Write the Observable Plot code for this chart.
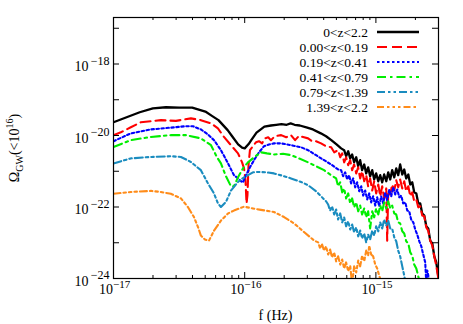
<!DOCTYPE html>
<html><head><meta charset="utf-8">
<script src="https://cdn.jsdelivr.net/npm/d3@7"></script>
<script src="https://cdn.jsdelivr.net/npm/@observablehq/plot@0.6"></script>
<style>body{margin:0;background:#fff}#chart{width:463px;height:324px}</style>
</head><body><div id="chart"></div>
<script>
// ---- data (log10 f [Hz], log10 Omega_GW) ----
const seriesNames = ["0<z<2.2","0.00<z<0.19","0.19<z<0.41","0.41<z<0.79","0.79<z<1.39","1.39<z<2.2"];
const seriesColors = ["#000000","#ff0000","#0000ff","#00ee00","#1a8cbf","#ff8c1a"];
const seriesDash = ["none","10,5","2.5,2.5","9,4,2.5,4","8,3,2.5,3,2.5,3","7,3,2.5,3,2.5,3,2.5,3"];

const black = [
[-17.0,-19.63],[-16.9,-19.49],[-16.8,-19.35],[-16.7,-19.24],[-16.6,-19.21],[-16.5,-19.22],[-16.4,-19.22],[-16.3,-19.33],[-16.25,-19.45],[-16.2,-19.57],[-16.13,-19.85],[-16.1,-20.0],[-16.05,-20.25],[-16.02,-20.34],[-16.0,-20.36],[-15.97,-20.24],[-15.95,-20.13],[-15.91,-19.92],[-15.85,-19.75],[-15.8,-19.72],[-15.76,-19.70],[-15.72,-19.68],[-15.68,-19.70],[-15.65,-19.66],[-15.62,-19.70],[-15.58,-19.72],[-15.53,-19.77],[-15.48,-19.83],[-15.42,-19.94],[-15.38,-20.02],[-15.34,-20.13],[-15.30,-20.25],[-15.265,-20.36],
[-15.242,-20.41],[-15.227,-20.58],[-15.211,-20.44],[-15.196,-20.64],[-15.181,-20.53],[-15.166,-20.75],[-15.150,-20.61],[-15.135,-20.86],[-15.120,-20.69],[-15.105,-20.97],[-15.089,-20.81],[-15.074,-21.06],[-15.059,-20.89],[-15.044,-21.14],[-15.028,-20.97],[-15.013,-21.23],[-14.998,-21.06],[-14.982,-21.28],[-14.967,-21.11],[-14.952,-21.31],[-14.937,-21.09],[-14.921,-21.28],[-14.906,-21.03],[-14.891,-21.23],[-14.876,-20.97],[-14.860,-21.17],[-14.845,-20.92],[-14.830,-21.11],[-14.815,-20.81],[-14.799,-21.09],[-14.784,-20.95],[-14.769,-21.20],[-14.753,-21.09],[-14.738,-21.37],[-14.723,-21.31],[-14.708,-21.59],[-14.692,-21.62],[-14.677,-21.90],[-14.662,-21.90],[-14.647,-22.18],[-14.631,-22.24],[-14.616,-22.54],[-14.601,-22.60],[-14.586,-22.94],[-14.570,-23.02],[-14.555,-23.38],[-14.540,-23.55],[-14.524,-23.94]
];
const red = [
[-17.0,-19.99],[-16.944,-19.91],[-16.868,-19.77],[-16.792,-19.63],[-16.715,-19.60],[-16.639,-19.57],[-16.524,-19.59],[-16.41,-19.52],[-16.334,-19.57],[-16.257,-19.66],[-16.204,-19.80],[-16.158,-20.04],[-16.105,-20.27],[-16.051,-20.50],[-16.02,-20.75],[-16.005,-20.92],[-15.994,-21.25],[-15.986,-21.90],[-15.979,-21.67],[-15.971,-20.83],[-15.96,-20.41],[-15.937,-20.30],[-15.914,-20.19],[-15.891,-20.16],[-15.868,-20.22],[-15.845,-20.08],[-15.821,-20.05],[-15.80,-20.13],[-15.77,-20.02],[-15.722,-19.99],[-15.684,-20.05],[-15.647,-19.99],[-15.616,-20.13],[-15.586,-20.01],[-15.548,-20.05],[-15.517,-20.08],[-15.486,-20.16],[-15.456,-20.16],[-15.418,-20.22],[-15.38,-20.30],[-15.341,-20.33],[-15.318,-20.47],
[-15.288,-20.41],[-15.272,-20.61],[-15.257,-20.50],[-15.242,-20.75],[-15.227,-20.61],[-15.211,-20.83],[-15.196,-20.69],[-15.181,-20.97],[-15.166,-20.81],[-15.150,-21.06],[-15.135,-20.89],[-15.120,-21.20],[-15.105,-21.00],[-15.089,-21.28],[-15.074,-21.11],[-15.059,-21.42],[-15.044,-21.20],[-15.028,-21.54],[-15.013,-21.28],[-14.998,-21.62],[-14.982,-21.37],[-14.967,-21.70],[-14.952,-21.42],[-14.937,-21.76],[-14.921,-21.48],[-14.914,-22.94],[-14.906,-21.54],[-14.891,-21.65],[-14.876,-21.37],[-14.860,-21.54],[-14.845,-21.25],[-14.830,-21.45],[-14.815,-21.23],[-14.799,-21.48],[-14.784,-21.28],[-14.769,-21.56],[-14.753,-21.42],[-14.738,-21.70],[-14.723,-21.59],[-14.708,-21.84],[-14.692,-21.79],[-14.677,-22.01],[-14.662,-21.98],[-14.647,-22.24],[-14.631,-22.26],[-14.616,-22.57],[-14.601,-22.66],[-14.586,-22.94],[-14.570,-23.08],[-14.555,-23.38],[-14.540,-23.64],[-14.524,-24.0]
];
const blue = [
[-17.0,-20.16],[-16.868,-19.94],[-16.715,-19.83],[-16.563,-19.78],[-16.448,-19.74],[-16.395,-19.74],[-16.334,-19.83],[-16.28,-19.97],[-16.234,-20.13],[-16.181,-20.41],[-16.127,-20.78],[-16.082,-21.11],[-16.051,-21.20],[-16.028,-21.28],[-16.013,-21.31],[-15.99,-21.11],[-15.96,-20.89],[-15.929,-20.69],[-15.891,-20.47],[-15.853,-20.30],[-15.815,-20.25],[-15.777,-20.22],[-15.722,-20.22],[-15.647,-20.27],[-15.57,-20.33],[-15.517,-20.41],[-15.456,-20.55],[-15.395,-20.69],[-15.341,-20.81],[-15.288,-20.95],
[-15.265,-20.97],[-15.250,-21.14],[-15.234,-21.03],[-15.219,-21.23],[-15.204,-21.11],[-15.189,-21.34],[-15.173,-21.20],[-15.158,-21.45],[-15.143,-21.31],[-15.127,-21.56],[-15.112,-21.42],[-15.097,-21.68],[-15.082,-21.54],[-15.066,-21.79],[-15.051,-21.62],[-15.036,-21.87],[-15.021,-21.70],[-15.005,-21.96],[-14.990,-21.73],[-14.975,-21.98],[-14.960,-21.70],[-14.944,-21.90],[-14.929,-21.59],[-14.914,-21.82],[-14.898,-21.51],[-14.883,-21.70],[-14.868,-21.45],[-14.853,-21.65],[-14.837,-21.51],[-14.822,-21.73],[-14.807,-21.68],[-14.792,-21.90],[-14.776,-21.87],[-14.761,-22.10],[-14.746,-22.12],[-14.731,-22.35],[-14.715,-22.43],[-14.700,-22.63],[-14.685,-22.77],[-14.669,-22.96],[-14.654,-23.10],[-14.639,-23.33],[-14.624,-23.55],[-14.616,-24.14],[-14.608,-23.78],[-14.593,-24.06]
];
const green = [
[-17.0,-20.32],[-16.868,-20.13],[-16.715,-20.04],[-16.563,-19.99],[-16.448,-19.99],[-16.334,-20.08],[-16.257,-20.27],[-16.211,-20.61],[-16.181,-20.78],[-16.143,-21.14],[-16.105,-21.42],[-16.082,-21.42],[-16.051,-21.17],[-16.013,-20.92],[-15.975,-20.75],[-15.929,-20.61],[-15.876,-20.47],[-15.83,-20.50],[-15.777,-20.53],[-15.708,-20.51],[-15.647,-20.55],[-15.586,-20.64],[-15.517,-20.75],[-15.456,-20.86],[-15.395,-20.97],[-15.341,-21.11],
[-15.303,-21.20],[-15.288,-21.42],[-15.272,-21.31],[-15.257,-21.59],[-15.242,-21.48],[-15.227,-21.76],[-15.211,-21.62],[-15.196,-21.90],[-15.181,-21.76],[-15.166,-22.01],[-15.150,-21.87],[-15.135,-22.12],[-15.120,-21.96],[-15.105,-22.21],[-15.089,-22.04],[-15.074,-22.29],[-15.059,-22.12],[-15.044,-22.60],[-15.028,-22.12],[-15.013,-22.29],[-14.998,-22.04],[-14.982,-22.21],[-14.967,-21.96],[-14.952,-22.12],[-14.937,-21.87],[-14.921,-22.04],[-14.906,-21.84],[-14.891,-22.04],[-14.876,-21.96],[-14.860,-22.18],[-14.845,-22.21],[-14.830,-22.43],[-14.815,-22.46],[-14.799,-22.68],[-14.784,-22.74],[-14.769,-22.96],[-14.753,-23.02],[-14.738,-23.27],[-14.723,-23.36],[-14.708,-23.61],[-14.692,-23.72],[-14.677,-23.94],[-14.669,-24.06]
];
const teal = [
[-17.0,-20.78],[-16.868,-20.64],[-16.715,-20.60],[-16.563,-20.58],[-16.486,-20.60],[-16.41,-20.74],[-16.334,-20.97],[-16.28,-21.34],[-16.234,-21.62],[-16.204,-21.90],[-16.181,-22.00],[-16.143,-21.86],[-16.105,-21.54],[-16.051,-21.30],[-16.005,-21.17],[-15.975,-21.11],[-15.937,-21.03],[-15.898,-21.02],[-15.837,-21.03],[-15.777,-21.06],[-15.708,-21.13],[-15.647,-21.20],[-15.57,-21.30],[-15.517,-21.39],[-15.456,-21.56],[-15.418,-21.70],[-15.38,-21.84],
[-15.364,-21.93],[-15.349,-22.10],[-15.334,-21.98],[-15.318,-22.21],[-15.303,-22.07],[-15.288,-22.35],[-15.272,-22.18],[-15.257,-22.43],[-15.242,-22.29],[-15.227,-22.54],[-15.211,-22.40],[-15.196,-22.63],[-15.181,-22.49],[-15.166,-22.71],[-15.150,-22.57],[-15.135,-22.82],[-15.120,-22.66],[-15.105,-22.88],[-15.089,-22.74],[-15.074,-22.99],[-15.059,-22.77],[-15.044,-22.91],[-15.028,-22.66],[-15.013,-22.80],[-14.998,-22.54],[-14.982,-22.68],[-14.967,-22.43],[-14.952,-22.60],[-14.937,-22.35],[-14.921,-22.52],[-14.906,-22.38],[-14.891,-22.60],[-14.876,-22.60],[-14.860,-22.85],[-14.845,-22.96],[-14.830,-23.22],[-14.815,-23.38],[-14.799,-23.66],[-14.784,-23.92],[-14.776,-24.08]
];
const orange = [
[-17.0,-21.63],[-16.868,-21.58],[-16.715,-21.55],[-16.639,-21.58],[-16.563,-21.63],[-16.486,-21.76],[-16.433,-22.00],[-16.387,-22.28],[-16.356,-22.56],[-16.334,-22.80],[-16.303,-22.91],[-16.272,-22.94],[-16.234,-22.66],[-16.181,-22.38],[-16.127,-22.18],[-16.082,-22.10],[-16.005,-21.99],[-15.937,-22.04],[-15.876,-22.08],[-15.777,-22.14],[-15.70,-22.28],[-15.623,-22.46],[-15.548,-22.70],[-15.47,-22.94],
[-15.44,-22.99],[-15.425,-23.16],[-15.41,-23.05],[-15.395,-23.22],[-15.38,-23.10],[-15.364,-23.33],[-15.349,-23.19],[-15.334,-23.41],[-15.318,-23.27],[-15.303,-23.52],[-15.288,-23.38],[-15.272,-23.61],[-15.257,-23.47],[-15.242,-23.72],[-15.227,-23.55],[-15.211,-23.80],[-15.196,-23.64],[-15.181,-24.17],[-15.166,-23.66],[-15.150,-23.83],[-15.135,-23.50],[-15.120,-23.66],[-15.105,-23.36],[-15.089,-23.52],[-15.074,-23.22],[-15.059,-23.36],[-15.051,-23.08],[-15.036,-23.33],[-15.021,-23.38],[-15.005,-23.61],[-14.990,-23.72],[-14.975,-23.92],[-14.960,-24.08]
];

// ticks
const xLabelExps = [-17, -16, -15];
const xMinorTicks = [2e-17,3e-17,4e-17,5e-17,6e-17,7e-17,8e-17,9e-17,2e-16,3e-16,4e-16,5e-16,6e-16,7e-16,8e-16,9e-16,2e-15];
const yTickExps = [-24,-23,-22,-21,-20,-19,-18,-17];
const yLabelExps = [-24, -22, -20, -18];
const xTitle = "f (Hz)";

// ---- build ----
const serif = '"Liberation Serif","Times New Roman",serif';
const W = 463, H = 324, mL = 113, mR = 25, mT = 17, mB = 46;
const iW = W - mL - mR, iH = H - mT - mB;
const seriesData = [black, red, blue, green, teal, orange];
const rows = seriesData.map((arr, i) => arr.map(([lf, lo]) => ({series: seriesNames[i], f: Math.pow(10, lf), omega: Math.pow(10, lo)})));
const xMajor = xLabelExps.map(e => Math.pow(10, e));
const yMajor = yTickExps.map(e => Math.pow(10, e));
const minus = e => "\u2212" + Math.abs(e);

const marks = [];
rows.forEach((r, i) => marks.push(Plot.line(r, {x: "f", y: "omega", stroke: seriesColors[i], strokeWidth: i === 0 ? 2.3 : 2.1,
  strokeDasharray: seriesDash[i], strokeLinejoin: "round", clip: true})));
// inward ticks, mirrored
marks.push(Plot.ruleX(xMajor, {x: d => d, insetTop: iH - 6, stroke: "#000"}));
marks.push(Plot.ruleX(xMajor, {x: d => d, insetBottom: iH - 6, stroke: "#000"}));
marks.push(Plot.ruleX(xMinorTicks, {x: d => d, insetTop: iH - 3, stroke: "#000"}));
marks.push(Plot.ruleX(xMinorTicks, {x: d => d, insetBottom: iH - 3, stroke: "#000"}));
marks.push(Plot.ruleY(yMajor, {y: d => d, insetRight: iW - 6, stroke: "#000"}));
marks.push(Plot.ruleY(yMajor, {y: d => d, insetLeft: iW - 6, stroke: "#000"}));
marks.push(Plot.frame({stroke: "#000", strokeWidth: 1.2}));
// tick labels
marks.push(Plot.text(xLabelExps, {x: e => Math.pow(10, e), frameAnchor: "bottom", text: () => "10", textAnchor: "end", dy: 15, dx: -0.5, fontSize: 14, fontFamily: serif}));
marks.push(Plot.text(xLabelExps, {x: e => Math.pow(10, e), frameAnchor: "bottom", text: minus, textAnchor: "start", dy: 9, dx: -0.5, fontSize: 11, fontFamily: serif}));
marks.push(Plot.text(yLabelExps, {y: e => Math.pow(10, e), frameAnchor: "left", text: () => "10", textAnchor: "end", dx: -25, dy: 3, fontSize: 14, fontFamily: serif}));
marks.push(Plot.text(yLabelExps, {y: e => Math.pow(10, e), frameAnchor: "left", text: minus, textAnchor: "end", dx: -4, dy: -3, fontSize: 12, fontFamily: serif}));

const svg = Plot.plot({
  width: W, height: H, marginLeft: mL, marginRight: mR, marginTop: mT, marginBottom: mB,
  x: {type: "log", domain: [1e-17, 3e-15], axis: null},
  y: {type: "log", domain: [1e-24, 2e-17], axis: null},
  style: {fontFamily: serif, fontSize: "14px", background: "#fff", color: "#000"},
  marks
});
document.getElementById("chart").appendChild(svg);

// titles and legend
const s = d3.select(svg);
s.append("text").attr("x", mL + iW / 2).attr("y", 320).attr("text-anchor", "middle")
  .attr("font-family", serif).attr("font-size", 14).attr("fill", "#000").text(xTitle);
const yt = s.append("text").attr("transform", "translate(19,148) rotate(-90)").attr("text-anchor", "middle")
  .attr("font-family", serif).attr("font-size", 14).attr("fill", "#000");
yt.append("tspan").text("\u03A9");
yt.append("tspan").attr("font-size", 10).attr("dy", 4).text("GW");
yt.append("tspan").attr("dy", -4).text("(<10");
yt.append("tspan").attr("font-size", 10).attr("dy", -6).text("16");
yt.append("tspan").attr("dy", 6).text(")");

const lg = s.append("g");
seriesNames.forEach((name, i) => {
  const cy = 32 + 15 * i;
  lg.append("text").attr("x", 368).attr("y", cy + 4.5).attr("text-anchor", "end")
    .attr("font-family", serif).attr("font-size", 13.5).attr("fill", "#000").text(name);
  lg.append("line").attr("x1", 377).attr("x2", 419).attr("y1", cy).attr("y2", cy)
    .attr("stroke", seriesColors[i]).attr("stroke-width", i === 0 ? 2.3 : 2.1)
    .attr("stroke-dasharray", seriesDash[i]);
});
</script></body></html>
